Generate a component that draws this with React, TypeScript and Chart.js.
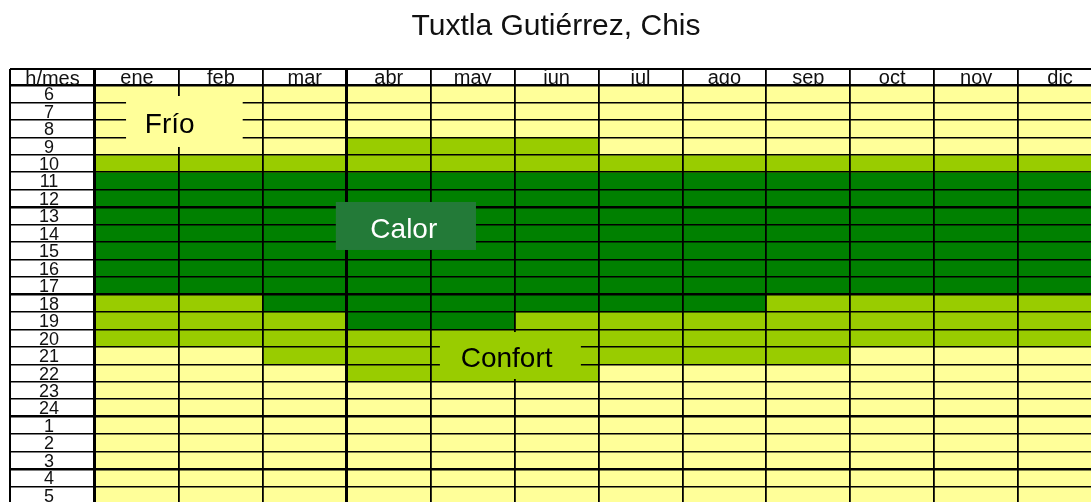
import React, { useEffect, useRef } from 'react';
import { Chart, registerables } from 'chart.js';

Chart.register(...registerables);

const FONT = '"Liberation Sans", Arial, Helvetica, sans-serif';

const TITLE = 'Tuxtla Gutiérrez, Chis';
const CORNER_LABEL = 'h/mes';
const months = ['ene', 'feb', 'mar', 'abr', 'may', 'jun', 'jul', 'ago', 'sep', 'oct', 'nov', 'dic'];
const hours = ['6', '7', '8', '9', '10', '11', '12', '13', '14', '15', '16', '17', '18', '19', '20', '21', '22', '23', '24', '1', '2', '3', '4', '5'];

// number of consecutive hours in each zone per month, from 6 h downward
const frioManana = [4, 4, 4, 3, 3, 3, 4, 4, 4, 4, 4, 4];
const confortManana = [1, 1, 1, 2, 2, 2, 1, 1, 1, 1, 1, 1];
const calor = [7, 7, 8, 9, 9, 8, 8, 8, 7, 7, 7, 7];
const confortTarde = [3, 3, 3, 3, 3, 4, 3, 3, 4, 3, 3, 3];
const frioNoche = [9, 9, 8, 7, 7, 7, 8, 8, 8, 9, 9, 9];

const COLOR_FRIO = '#FFFF99';
const COLOR_CONFORT = '#99CC00';
const COLOR_CALOR = '#008000';

// zone labels (x in month-index units, y in hour-row units)
const zoneLabels = [
  { text: 'Frío', x0: -0.13, x1: 1.26, y0: 0.63, y1: 3.55, tx: 0.39, ty: 2.29, fill: COLOR_FRIO, color: '#000' },
  { text: 'Calor', x0: 2.37, x1: 4.04, y0: 6.7, y1: 9.45, tx: 3.18, ty: 8.3, fill: '#237A38', color: '#fff' },
  { text: 'Confort', x0: 3.61, x1: 5.29, y0: 14.15, y1: 16.84, tx: 4.405, ty: 15.7, fill: COLOR_CONFORT, color: '#000' },
];

const thickRows = [0, 7, 12, 19, 22];
const thickCols = [0, 3];

const tablePlugin = {
  id: 'tableDecor',
  afterDraw(chart: any) {
    const ctx = chart.ctx;
    const xs = chart.scales.x;
    const ys = chart.scales.y;
    const yv = chart.scales.yv;
    const ca = chart.chartArea;
    ctx.save();
    ctx.strokeStyle = '#000';
    ctx.lineWidth = 2;
    ctx.beginPath();
    ctx.moveTo(ys.left, xs.top);
    ctx.lineTo(ca.right, xs.top);
    ctx.moveTo(ys.left, xs.top);
    ctx.lineTo(ys.left, ca.bottom);
    ctx.stroke();
    ctx.fillStyle = '#111';
    ctx.font = `20px ${FONT}`;
    ctx.textAlign = 'center';
    ctx.textBaseline = 'alphabetic';
    ctx.fillText(CORNER_LABEL, (ys.left + ys.right) / 2, ca.top);
    const band = xs.getPixelForValue(1) - xs.getPixelForValue(0);
    const px = (v: number) => xs.getPixelForValue(0) + v * band;
    for (const z of zoneLabels) {
      const x0 = px(z.x0), x1 = px(z.x1);
      const y0 = yv.getPixelForValue(z.y0), y1 = yv.getPixelForValue(z.y1);
      ctx.fillStyle = z.fill;
      ctx.fillRect(x0, y0, x1 - x0, y1 - y0);
      ctx.fillStyle = z.color;
      ctx.font = `28px ${FONT}`;
      ctx.textAlign = 'center';
      ctx.textBaseline = 'middle';
      ctx.fillText(z.text, px(z.tx), yv.getPixelForValue(z.ty));
    }
    ctx.restore();
  },
};

export default function App() {
  const ref = useRef<HTMLCanvasElement | null>(null);
  useEffect(() => {
    if (!ref.current) return;
    const mk = (label: string, data: number[], color: string) => ({
      label,
      data,
      backgroundColor: color,
      borderWidth: 0,
      yAxisID: 'yv',
      barPercentage: 1,
      categoryPercentage: 1,
    });
    const chart = new Chart(ref.current, {
      type: 'bar',
      data: {
        labels: months,
        datasets: [
          mk('Frío (mañana)', frioManana, COLOR_FRIO),
          mk('Confort (mañana)', confortManana, COLOR_CONFORT),
          mk('Calor', calor, COLOR_CALOR),
          mk('Confort (tarde)', confortTarde, COLOR_CONFORT),
          mk('Frío (noche)', frioNoche, COLOR_FRIO),
        ],
      },
      options: {
        animation: false,
        responsive: false,
        devicePixelRatio: 1,
        layout: { padding: { left: 2, right: 6, top: 0, bottom: 4 } },
        plugins: {
          legend: { display: false },
          tooltip: { enabled: false },
          title: {
            display: true,
            text: TITLE,
            color: '#111',
            font: { family: FONT, size: 30, weight: 'normal', lineHeight: 1 },
            padding: { top: 4, bottom: 27 },
          },
        },
        scales: {
          x: {
            type: 'category',
            position: 'top',
            stacked: true,
            offset: true,
            grid: {
              offset: true,
              z: 1,
              color: '#000',
              lineWidth: (c: any) => (thickCols.includes(c.index) ? 3 : 1.8),
              drawTicks: true,
              tickLength: 16,
            },
            border: { display: true, color: '#000', width: 2, z: 1 },
            ticks: {
              autoSkip: false,
              maxRotation: 0,
              minRotation: 0,
              color: '#111',
              font: { family: FONT, size: 20, lineHeight: 1.2 },
              padding: -21,
            },
            afterFit: (s: any) => {
              s.height = 16;
            },
          },
          y: {
            type: 'category',
            labels: hours,
            position: 'left',
            offset: true,
            grid: {
              offset: true,
              z: 1,
              color: '#000',
              lineWidth: (c: any) => (thickRows.includes(c.index) ? 2.6 : 1.6),
              drawTicks: true,
              tickLength: 85,
            },
            border: { display: true, color: '#000', width: 2, z: 1 },
            ticks: {
              autoSkip: false,
              crossAlign: 'center',
              padding: -49,
              labelOffset: 1.5,
              color: '#111',
              font: { family: FONT, size: 18, lineHeight: 1 },
            },
            afterFit: (s: any) => {
              s.width = 85;
            },
          },
          yv: {
            type: 'linear',
            display: false,
            stacked: true,
            min: 0,
            max: 24,
            reverse: true,
          },
        },
      } as any,
      plugins: [tablePlugin],
    });
    return () => chart.destroy();
  }, []);
  return (
    <div style={{ position: 'fixed', left: 8, top: 8, width: 1083, height: 494, overflow: 'hidden', background: '#fff' }}>
      <canvas ref={ref} width={1100} height={500} style={{ width: 1100, height: 500, display: 'block' }} />
    </div>
  );
}
